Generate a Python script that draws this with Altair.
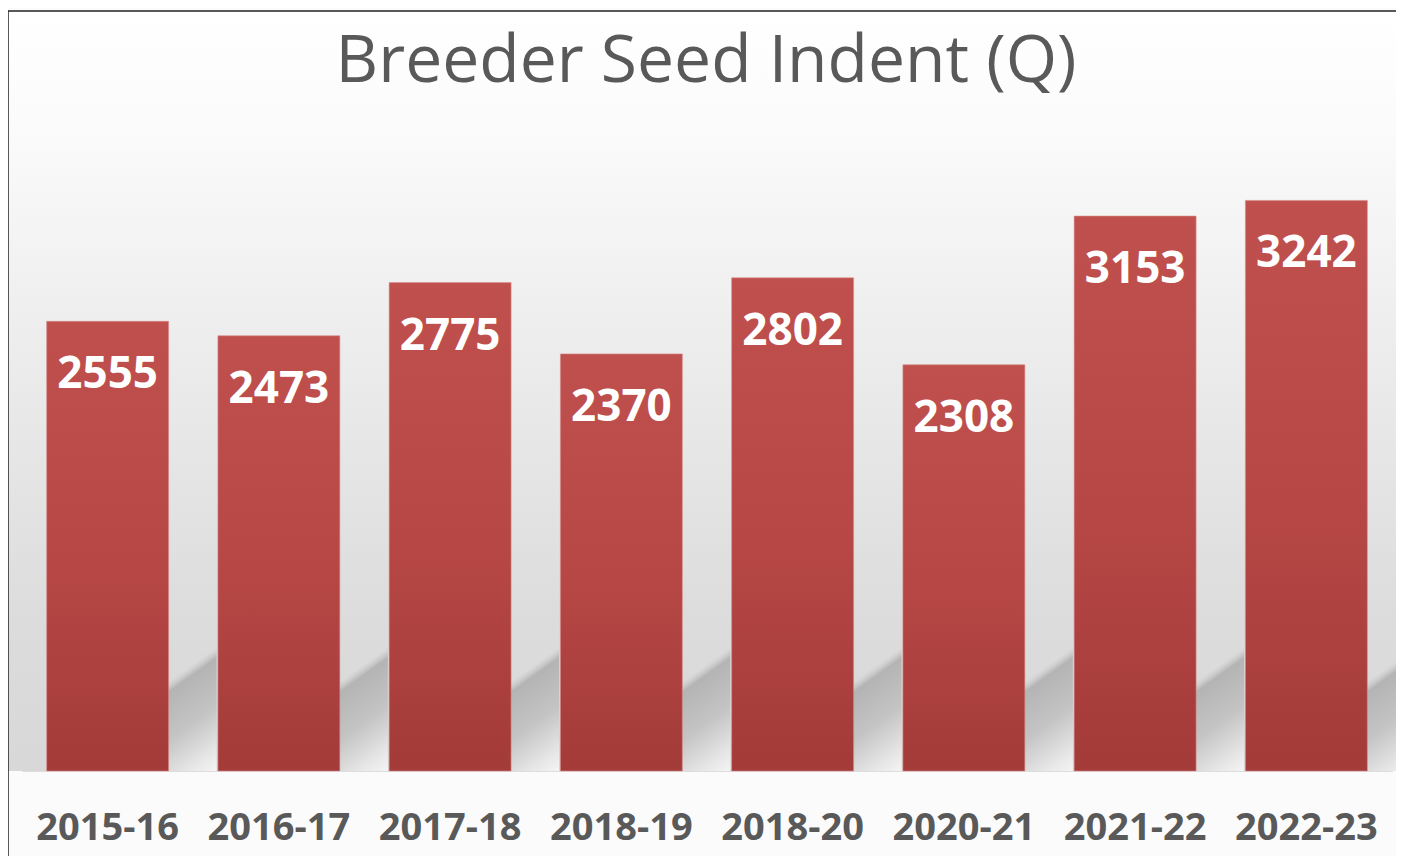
import altair as alt
import pandas as pd

years = ["2015-16", "2016-17", "2017-18", "2018-19", "2018-20", "2020-21", "2021-22", "2022-23"]
values = [2555, 2473, 2775, 2370, 2802, 2308, 3153, 3242]
title_text = "Breeder Seed Indent (Q)"

df = pd.DataFrame({"year": years, "value": values})

W, H = 1370, 616
PAD_L, PAD_T = 14, 147
PAD_R = 1388 - W - PAD_L
PAD_B = 848 - H - PAD_T

FONT = "Open Sans"
GRAY = "#595959"

bar_grad = alt.Gradient(
    gradient="linear",
    stops=[alt.GradientStop(color="#c0504d", offset=0),
           alt.GradientStop(color="#b84846", offset=0.5),
           alt.GradientStop(color="#a33b39", offset=1)],
    x1=0, x2=0, y1=0, y2=1,
)
bg_grad = alt.Gradient(
    gradient="linear",
    stops=[alt.GradientStop(color="#ffffff", offset=0),
           alt.GradientStop(color="#fbfbfb", offset=0.15),
           alt.GradientStop(color="#ececec", offset=0.45),
           alt.GradientStop(color="#dcdcdc", offset=0.8),
           alt.GradientStop(color="#d8d8d8", offset=1)],
    x1=0, x2=0, y1=0, y2=1,
)
shadow_grad = alt.Gradient(
    gradient="linear",
    stops=[alt.GradientStop(color="rgba(200,200,200,0)", offset=0),
           alt.GradientStop(color="rgba(200,200,200,0)", offset=0.43),
           alt.GradientStop(color="#b4b4b4", offset=0.48),
           alt.GradientStop(color="#c4c4c4", offset=0.7),
           alt.GradientStop(color="#e6e6e6", offset=0.9),
           alt.GradientStop(color="#f4f4f4", offset=1)],
    x1=0, y1=0, x2=0.772, y2=1.152,
)

one = alt.Data(values=[{"t": title_text}])

bg = alt.Chart(one).mark_rect(fill=bg_grad).encode(
    x=alt.value(-PAD_L), x2=alt.value(W + PAD_R),
    y=alt.value(-PAD_T + 3), y2=alt.value(H),
)

title = alt.Chart(one).mark_text(font=FONT, fontSize=66, color=GRAY, align="center",
                                 baseline="alphabetic").encode(
    x=alt.value(684), y=alt.value(-73), text="t:N")

xenc = alt.X("year:N", sort=years, title=None,
             scale=alt.Scale(paddingInner=0.288, paddingOuter=0.144),
             axis=alt.Axis(labelAngle=0, labelFont=FONT, labelFontSize=38,
                           labelFontWeight="bold", labelColor=GRAY, labelPadding=38,
                           domain=False, ticks=False))
yscale = alt.Scale(domain=[0, 3500])

base = alt.Chart(df).encode(
    x=xenc,
    y=alt.Y("value:Q", scale=yscale, axis=None),
)

shadow = alt.Chart(df).mark_bar(fill=shadow_grad, xOffset=48).encode(
    x=xenc,
    y=alt.Y(datum=740, scale=yscale, axis=None),
    y2=alt.Y2(datum=0),
)

bars = base.mark_bar(fill=bar_grad, stroke="#d98c8a", strokeWidth=0.6)
labels = base.mark_text(color="white", font=FONT, fontSize=44, fontWeight="bold",
                        baseline="middle", align="center", dy=54).encode(text="value:Q")

border_top = alt.Chart(one).mark_rule(color="#222222", strokeWidth=1.5).encode(
    x=alt.value(-PAD_L), x2=alt.value(W + PAD_R), y=alt.value(-PAD_T + 3))
border_left = alt.Chart(one).mark_rule(color="#222222", strokeWidth=1.5).encode(
    x=alt.value(-PAD_L), y=alt.value(-PAD_T + 3), y2=alt.value(H + PAD_B))

chart = alt.layer(bg, title, shadow, bars, labels, border_top, border_left).properties(
    width=W, height=H,
    autosize=alt.AutoSizeParams(type="none"),
    padding={"left": PAD_L, "top": PAD_T, "right": PAD_R, "bottom": PAD_B},
).configure_view(stroke=None).configure(background="#fbfbfb")

chart.save("out.html", embed_options={"renderer": "svg", "actions": False})
